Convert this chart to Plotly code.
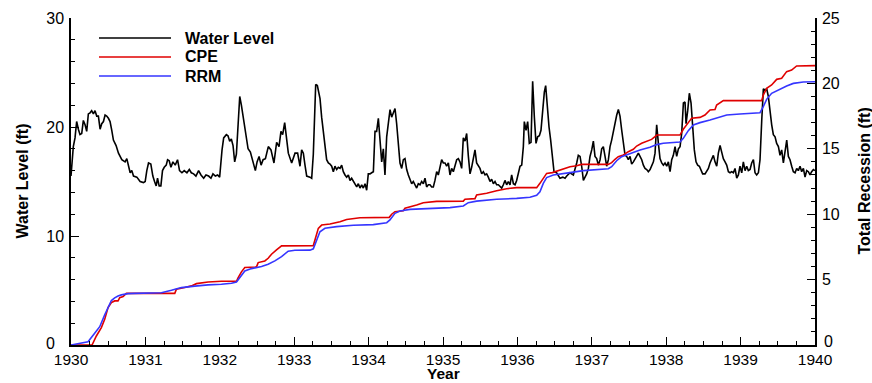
import plotly.graph_objects as go

# ---------------- data ----------------
wl_year = [1930.000, 1930.022, 1930.031, 1930.054, 1930.076, 1930.099, 1930.121, 1930.144, 1930.166, 1930.189,
           1930.211, 1930.233, 1930.256, 1930.278, 1930.301, 1930.323, 1930.346, 1930.368, 1930.391, 1930.413,
           1930.436, 1930.458, 1930.480, 1930.503, 1930.525, 1930.548, 1930.570, 1930.606, 1930.638, 1930.683,
           1930.727, 1930.750, 1930.772, 1930.795, 1930.817, 1930.840, 1930.885, 1930.929, 1930.974, 1930.997,
           1931.019, 1931.042, 1931.073, 1931.100, 1931.123, 1931.145, 1931.163, 1931.185, 1931.208, 1931.230,
           1931.253, 1931.280, 1931.298, 1931.320, 1931.343, 1931.370, 1931.401, 1931.432, 1931.459, 1931.491,
           1931.522, 1931.558, 1931.590, 1931.617, 1931.648, 1931.679, 1931.715, 1931.747, 1931.783, 1931.814,
           1931.850, 1931.881, 1931.908, 1931.940, 1931.971, 1931.998,
           1932.030, 1932.052, 1932.088, 1932.110, 1932.133, 1932.155, 1932.178, 1932.200, 1932.223, 1932.245,
           1932.268, 1932.290, 1932.322, 1932.353, 1932.380, 1932.411, 1932.443, 1932.478, 1932.501, 1932.528,
           1932.555, 1932.582, 1932.613, 1932.652, 1932.688, 1932.728, 1932.764, 1932.796, 1932.822, 1932.845,
           1932.872, 1932.899, 1932.921, 1932.966, 1933.011, 1933.046, 1933.078,
           1933.100, 1933.123, 1933.145, 1933.168, 1933.212, 1933.235, 1933.257, 1933.289, 1933.311, 1933.347,
           1933.369, 1933.392, 1933.414, 1933.436, 1933.459, 1933.481, 1933.504, 1933.526, 1933.548, 1933.571,
           1933.593, 1933.616, 1933.638, 1933.660, 1933.683, 1933.705, 1933.728, 1933.750, 1933.772, 1933.795,
           1933.817, 1933.840, 1933.862, 1933.884, 1933.907, 1933.929, 1933.952, 1933.974, 1933.996,
           1934.019, 1934.041, 1934.064, 1934.086, 1934.108, 1934.131, 1934.153, 1934.176, 1934.198, 1934.220,
           1934.243, 1934.265, 1934.288, 1934.310, 1934.332, 1934.355, 1934.377, 1934.400, 1934.422, 1934.445,
           1934.467, 1934.489, 1934.512, 1934.534, 1934.556, 1934.579, 1934.601, 1934.624, 1934.646, 1934.668,
           1934.691, 1934.713, 1934.736, 1934.758, 1934.780, 1934.803, 1934.825, 1934.848, 1934.870, 1934.892,
           1934.915, 1934.937, 1934.960, 1934.982,
           1935.004, 1935.027, 1935.049, 1935.072, 1935.094, 1935.116, 1935.139, 1935.161, 1935.184, 1935.206,
           1935.228, 1935.251, 1935.273, 1935.296, 1935.318, 1935.341, 1935.363, 1935.385, 1935.408, 1935.430,
           1935.452, 1935.475, 1935.497, 1935.520, 1935.542, 1935.565, 1935.587, 1935.609, 1935.632, 1935.654,
           1935.677, 1935.699, 1935.721, 1935.744, 1935.766, 1935.789, 1935.811, 1935.833, 1935.856, 1935.878,
           1935.901, 1935.923, 1935.946, 1935.968, 1935.990,
           1936.013, 1936.035, 1936.058, 1936.080, 1936.093, 1936.116, 1936.138, 1936.160, 1936.183, 1936.205,
           1936.228, 1936.250, 1936.272, 1936.295, 1936.317, 1936.339, 1936.362, 1936.380, 1936.402, 1936.425,
           1936.447, 1936.469, 1936.492, 1936.528, 1936.572, 1936.610, 1936.640, 1936.663, 1936.707, 1936.752,
           1936.775, 1936.797, 1936.819, 1936.842, 1936.864, 1936.887, 1936.909, 1936.931, 1936.954, 1936.976,
           1936.999,
           1937.021, 1937.043, 1937.066, 1937.088, 1937.111, 1937.133, 1937.155, 1937.178, 1937.200, 1937.223,
           1937.245, 1937.267, 1937.290, 1937.312, 1937.335, 1937.357, 1937.379, 1937.402, 1937.424, 1937.447,
           1937.469, 1937.491, 1937.514, 1937.536, 1937.559, 1937.581, 1937.604, 1937.626, 1937.648, 1937.671,
           1937.693, 1937.715, 1937.738, 1937.760, 1937.783, 1937.805, 1937.828, 1937.850, 1937.872, 1937.895,
           1937.917, 1937.940, 1937.962, 1937.984,
           1938.007, 1938.029, 1938.052, 1938.074, 1938.096, 1938.119, 1938.141, 1938.164, 1938.186, 1938.208,
           1938.231, 1938.253, 1938.267, 1938.289, 1938.311, 1938.334, 1938.356, 1938.378, 1938.401, 1938.423,
           1938.446, 1938.468, 1938.490, 1938.522, 1938.544, 1938.567, 1938.589, 1938.611, 1938.634, 1938.656,
           1938.679, 1938.701, 1938.724, 1938.746, 1938.768, 1938.791, 1938.813, 1938.836, 1938.858, 1938.880,
           1938.903, 1938.925, 1938.948, 1938.970, 1938.992,
           1939.015, 1939.037, 1939.060, 1939.082, 1939.104, 1939.127, 1939.149, 1939.172, 1939.194, 1939.216,
           1939.239, 1939.261, 1939.284, 1939.306, 1939.328, 1939.351, 1939.373, 1939.396, 1939.418, 1939.440,
           1939.463, 1939.485, 1939.508, 1939.530, 1939.552, 1939.575, 1939.597, 1939.620, 1939.642, 1939.664,
           1939.687, 1939.709, 1939.732, 1939.754, 1939.776, 1939.799, 1939.821, 1939.844, 1939.866, 1939.889,
           1939.911, 1939.933, 1939.955, 1939.978, 1940.000]
wl_ft = [15.5, 18.0, 18.2, 19.0, 20.5, 19.8, 19.3, 19.4, 20.6, 20.2,
         19.6, 21.2, 21.3, 21.5, 21.2, 21.5, 21.0, 21.0, 19.8, 20.3,
         20.5, 21.1, 21.0, 20.8, 20.5, 19.7, 18.8, 18.3, 17.6, 17.0,
         16.8, 17.1, 16.5, 15.8, 16.0, 15.5, 15.4, 15.0, 14.9, 15.0,
         16.0, 16.7, 16.6, 15.5, 15.0, 14.6, 15.3, 14.6, 14.6, 16.0,
         16.3, 16.5, 17.0, 16.9, 16.3, 16.8, 16.5, 17.0, 16.0, 15.8,
         16.0, 15.8, 16.1, 15.8, 15.7, 15.5, 16.0, 15.6, 15.3, 15.6,
         15.5, 15.3, 15.7, 15.5, 15.6, 15.4,
         17.9, 19.0, 19.3, 19.2, 18.7, 18.9, 18.3, 16.8, 17.5, 20.0,
         22.8, 22.0, 20.5, 19.5, 18.0, 17.7, 16.8, 16.0, 16.8, 17.3,
         16.5, 17.0, 17.1, 18.2, 17.9, 16.7, 18.6, 18.2, 19.6, 19.3,
         20.4, 18.7, 17.6, 16.7, 17.6, 17.6, 16.4,
         17.9, 17.6, 16.5, 15.5, 15.4, 15.3, 17.5, 23.9, 23.8, 22.6,
         20.9, 19.4, 18.2, 17.0, 16.7, 16.6, 16.4, 15.9, 16.4, 16.1,
         16.3, 16.2, 16.5, 15.9, 15.6, 15.4, 15.6, 15.1, 15.3, 15.0,
         14.8, 14.5, 14.8, 14.4, 14.7, 14.4, 14.8, 14.2, 15.7,
         15.7, 15.8, 15.9, 19.6, 19.6, 20.8, 18.8, 16.8, 18.0, 15.6,
         19.1, 20.6, 21.6, 20.9, 21.4, 21.7, 20.3, 18.5, 16.7, 16.2,
         17.0, 17.1, 16.1, 15.6, 15.1, 14.8, 15.0, 14.7, 14.4, 14.8,
         14.7, 15.0, 14.8, 15.3, 14.5, 14.7, 14.7, 14.5, 14.5, 15.1,
         15.9, 15.6, 16.2, 17.0,
         16.7, 16.7, 16.4, 16.7, 15.6, 16.2, 15.9, 16.5, 17.0, 17.1,
         16.8, 16.2, 19.0, 18.7, 19.4, 17.3, 15.7, 16.3, 17.1, 17.9,
         16.7, 16.4, 16.2, 15.7, 15.9, 15.6, 15.7, 15.4, 15.0, 15.2,
         14.8, 15.0, 14.7, 14.7, 14.5, 14.4, 14.7, 15.1, 14.7, 15.0,
         14.7, 15.6, 14.8, 14.7, 15.1,
         15.7, 16.4, 16.5, 18.2, 20.5, 19.7, 20.5, 18.5, 18.6, 24.2,
         20.9, 18.5, 19.1, 19.2, 19.7, 21.9, 23.2, 23.8, 21.6, 20.0,
         18.8, 17.6, 15.9, 15.8, 15.3, 15.4, 15.3, 15.5, 15.8, 15.6,
         16.1, 16.7, 17.4, 17.3, 16.4, 15.1, 15.4, 15.7, 16.2, 17.3,
         17.9,
         18.7, 17.3, 17.1, 16.5, 17.0, 18.0, 18.2, 17.3, 16.4, 17.0,
         18.2, 18.8, 19.7, 20.5, 21.1, 21.6, 21.0, 19.7, 18.7, 17.4,
         17.3, 17.0, 17.3, 16.6, 16.8, 17.1, 17.4, 17.6, 17.3, 17.0,
         16.5, 16.2, 16.1, 15.9, 16.1, 16.4, 16.8, 17.6, 20.2, 18.5,
         17.1, 16.7, 16.5, 16.7,
         16.4, 16.8, 15.9, 17.0, 17.4, 18.2, 17.3, 18.0, 18.2, 19.4,
         22.2, 22.3, 20.3, 21.5, 23.1, 22.2, 19.7, 17.9, 16.8, 16.5,
         16.4, 16.0, 15.7, 15.7, 15.9, 16.2, 16.7, 17.1, 17.4, 16.8,
         16.4, 17.6, 18.3, 17.7, 17.1, 16.8, 16.5, 15.9, 15.8, 15.9,
         15.8, 16.2, 15.3, 15.6, 16.4,
         15.8, 16.8, 16.0, 16.4, 16.0, 16.1, 16.7, 17.0, 15.8, 15.6,
         15.8, 17.0, 20.6, 23.5, 23.4, 23.5, 22.8, 21.1, 20.2, 19.3,
         19.1, 18.5, 18.2, 17.4, 17.9, 16.7, 17.6, 18.8, 17.3, 17.0,
         16.4, 15.9, 15.8, 16.2, 16.0, 16.4, 15.9, 16.2, 15.4, 16.0,
         15.9, 15.6, 15.9, 16.1, 16.0]

cpe_year = [1930.000, 1930.283, 1930.341, 1930.386, 1930.408, 1930.453, 1930.498, 1930.543, 1930.587, 1930.632,
            1930.655, 1930.700, 1930.744, 1931.395, 1931.417, 1931.529, 1931.619, 1931.686, 1931.843, 1932.022,
            1932.224, 1932.247, 1932.291, 1932.336, 1932.493, 1932.516, 1932.605, 1932.650, 1932.695, 1932.762,
            1932.830, 1933.257, 1933.279, 1933.324, 1933.369, 1933.481, 1933.615, 1933.705, 1933.884, 1934.108,
            1934.278, 1934.310, 1934.354, 1934.466, 1934.489, 1934.646, 1934.735, 1934.914, 1935.273, 1935.295,
            1935.430, 1935.452, 1935.587, 1935.721, 1935.855, 1935.990, 1936.259, 1936.303, 1936.348, 1936.393,
            1936.470, 1936.528, 1936.617, 1936.707, 1936.796, 1936.864, 1937.222, 1937.267, 1937.312, 1937.356,
            1937.424, 1937.491, 1937.558, 1937.603, 1937.670, 1937.737, 1937.804, 1937.849, 1937.872, 1938.185,
            1938.230, 1938.297, 1938.342, 1938.454, 1938.521, 1938.589, 1938.656, 1938.678, 1938.745, 1938.768,
            1939.283, 1939.305, 1939.350, 1939.417, 1939.485, 1939.552, 1939.619, 1939.686, 1939.753, 1939.850,
            1940.000]
cpe_ft = [0.0, 0.0, 0.69, 1.07, 1.33, 1.96, 2.86, 3.24, 3.37, 3.37,
          3.62, 3.70, 3.95, 3.95, 4.26, 4.39, 4.52, 4.69, 4.82, 4.87,
          4.87, 5.15, 5.59, 5.92, 5.97, 6.30, 6.43, 6.63, 6.94, 7.27,
          7.58, 7.60, 8.03, 8.92, 9.17, 9.25, 9.43, 9.60, 9.73, 9.76,
          9.76, 10.00, 10.19, 10.27, 10.45, 10.70, 10.88, 10.98, 11.00, 11.14,
          11.19, 11.47, 11.60, 11.80, 11.95, 12.03, 12.03, 12.36, 12.74, 13.12,
          13.18, 13.30, 13.50, 13.63, 13.71, 13.81, 13.81, 13.94, 14.20, 14.40,
          14.53, 14.78, 14.96, 15.21, 15.42, 15.55, 15.72, 15.93, 16.05, 16.05,
          16.49, 17.00, 17.33, 17.40, 17.58, 17.97, 18.00, 18.35, 18.60, 18.68,
          18.68, 19.11, 19.62, 19.88, 20.31, 20.39, 20.90, 21.02, 21.33, 21.36,
          21.36]

rrm_year = [1930.000, 1930.094, 1930.229, 1930.318, 1930.386, 1930.453, 1930.498, 1930.543, 1930.587, 1930.632,
            1930.677, 1930.767, 1930.857, 1931.081, 1931.215, 1931.350, 1931.484, 1931.664, 1931.843, 1932.022,
            1932.157, 1932.224, 1932.269, 1932.336, 1932.426, 1932.561, 1932.650, 1932.740, 1932.830, 1932.919,
            1933.009, 1933.212, 1933.257, 1933.302, 1933.346, 1933.413, 1933.570, 1933.794, 1934.063, 1934.243,
            1934.287, 1934.354, 1934.422, 1934.556, 1934.780, 1935.094, 1935.273, 1935.340, 1935.452, 1935.721,
            1935.990, 1936.169, 1936.259, 1936.303, 1936.348, 1936.393, 1936.483, 1936.572, 1936.707, 1936.886,
            1937.110, 1937.222, 1937.267, 1937.334, 1937.401, 1937.513, 1937.648, 1937.782, 1937.872, 1937.961,
            1938.185, 1938.230, 1938.297, 1938.365, 1938.454, 1938.589, 1938.723, 1938.813, 1938.992, 1939.261,
            1939.305, 1939.350, 1939.417, 1939.529, 1939.619, 1939.709, 1939.843, 1940.000]
rrm_ft = [0.0, 0.08, 0.25, 0.90, 1.40, 2.30, 2.90, 3.40, 3.60, 3.75,
          3.83, 3.93, 3.95, 3.97, 4.00, 4.18, 4.39, 4.50, 4.60, 4.64,
          4.72, 4.82, 5.15, 5.66, 5.84, 6.00, 6.17, 6.43, 6.76, 7.17,
          7.24, 7.25, 7.35, 8.03, 8.66, 8.92, 9.05, 9.15, 9.20, 9.35,
          9.56, 10.07, 10.24, 10.37, 10.42, 10.50, 10.63, 10.88, 11.00, 11.14,
          11.21, 11.29, 11.44, 11.72, 12.36, 12.80, 13.00, 13.05, 13.18, 13.33,
          13.43, 13.48, 13.63, 14.09, 14.40, 14.65, 14.91, 15.11, 15.32, 15.42,
          15.52, 15.80, 16.39, 16.82, 17.00, 17.20, 17.46, 17.58, 17.66, 17.76,
          18.22, 18.78, 19.24, 19.57, 19.80, 20.00, 20.11, 20.13]

series_names = ["Water Level", "CPE", "RRM"]
series_colors = ["#000000", "#e00000", "#3535ff"]

wl_ticks = [10, 20, 30]          # 0 is drawn separately (offset like the reference)
rec_ticks = [5, 10, 15, 20, 25]

# ---------------- figure ----------------
FONT = "Liberation Sans, Arial, sans-serif"
W, H = 872, 383
ML, MT = 71, 18
PW, PH = 815 - 71, 345 - 18
MR, MB = W - ML - PW, H - MT - PH


def px(x_page):
    return (x_page - ML) / PW


def py(y_page):
    return (MT + PH - y_page) / PH


fig = go.Figure()
fig.add_trace(go.Scatter(x=wl_year, y=wl_ft, mode="lines", name=series_names[0],
                         line=dict(color=series_colors[0], width=1.6), yaxis="y"))
fig.add_trace(go.Scatter(x=cpe_year, y=cpe_ft, mode="lines", name=series_names[1],
                         line=dict(color=series_colors[1], width=1.6), yaxis="y2"))
fig.add_trace(go.Scatter(x=rrm_year, y=rrm_ft, mode="lines", name=series_names[2],
                         line=dict(color=series_colors[2], width=1.6), yaxis="y2"))

axis_common = dict(showgrid=False, zeroline=False, showline=True, linecolor="#000000", linewidth=1.5,
                   ticks="inside", tickcolor="#000000", tickwidth=1.2, ticklen=8, automargin=False)

fig.update_layout(
    width=W, height=H,
    margin=dict(l=ML, r=MR, t=MT, b=MB, autoexpand=False),
    paper_bgcolor="white", plot_bgcolor="white",
    showlegend=False,
    xaxis=dict(range=[1930, 1940], tick0=1930, dtick=1, tickformat="d", ticklabelstandoff=0,
               tickfont=dict(family=FONT, size=15.5, color="#000000"),
               minor=dict(dtick=0.25, ticks="inside", ticklen=4, tickcolor="#000000", tickwidth=1),
               **axis_common),
    yaxis=dict(range=[0, 30], tickmode="array", tickvals=wl_ticks, ticklabelstandoff=2,
               tickfont=dict(family=FONT, size=16, color="#000000"),
               minor=dict(dtick=2, ticks="inside", ticklen=4, tickcolor="#000000", tickwidth=1),
               **axis_common),
    yaxis2=dict(range=[0, 25], tickmode="array", tickvals=rec_ticks, overlaying="y", side="right",
                ticklabelstandoff=2, tickfont=dict(family=FONT, size=16, color="#000000"),
                minor=dict(dtick=1, ticks="inside", ticklen=4, tickcolor="#000000", tickwidth=1),
                **axis_common),
)

# axis titles as annotations (placed like the reference)
title_font = dict(family=FONT, size=16, color="#000000")
fig.add_annotation(xref="paper", yref="paper", x=px(443), y=py(383), text="<b>Year</b>",
                   showarrow=False, xanchor="center", yanchor="bottom", borderpad=0,
                   font=dict(family=FONT, size=15.5, color="#000000"))
fig.add_annotation(xref="paper", yref="paper", x=px(22), y=0.5, text="<b>Water Level (ft)</b>",
                   showarrow=False, xanchor="center", yanchor="middle", textangle=-90, font=title_font)
fig.add_annotation(xref="paper", yref="paper", x=px(864), y=0.5, text="<b>Total Recession (ft)</b>",
                   showarrow=False, xanchor="center", yanchor="middle", textangle=-90, font=title_font)

# zero labels of both value axes (nudged off the year labels as in the reference)
tick_font = dict(family=FONT, size=16, color="#000000")
fig.add_annotation(xref="paper", yref="y", x=px(57), y=0, text="0", showarrow=False,
                   xanchor="right", yanchor="middle", yshift=2, font=tick_font)
fig.add_annotation(xref="paper", yref="y2", x=px(822), y=0, text="0", showarrow=False,
                   xanchor="left", yanchor="middle", yshift=4, font=tick_font)

# manual legend (long line samples as in the reference)
leg_x0, leg_x1, leg_tx = px(99), px(171), px(183)
leg_rows = [py(38), py(57), py(76)]
for name, color, yy in zip(series_names, series_colors, leg_rows):
    fig.add_shape(type="line", xref="paper", yref="paper", x0=leg_x0, x1=leg_x1, y0=yy, y1=yy,
                  line=dict(color=color, width=1.6))
    fig.add_annotation(xref="paper", yref="paper", x=leg_tx, y=yy, text=f"<b>{name}</b>",
                       showarrow=False, xanchor="left", yanchor="middle",
                       font=dict(family=FONT, size=16, color="#000000"))

# the page body's default 8 px margin would shift the figure and add scrollbars
fig.write_html("out.html", config={"displayModeBar": False},
               post_script="document.body.style.margin='0';document.body.style.overflow='hidden';")
